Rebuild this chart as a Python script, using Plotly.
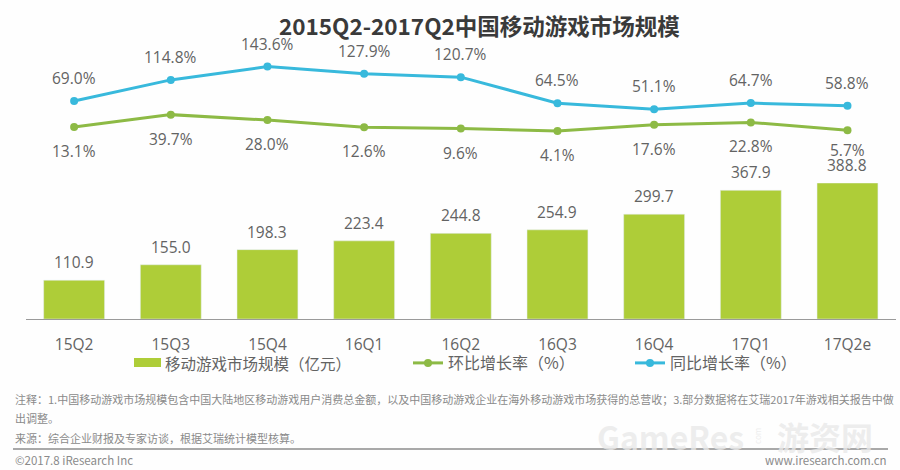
import plotly.graph_objects as go

quarters = ["15Q2", "15Q3", "15Q4", "16Q1", "16Q2", "16Q3", "16Q4", "17Q1", "17Q2e"]
market_size = [110.9, 155.0, 198.3, 223.4, 244.8, 254.9, 299.7, 367.9, 388.8]
qoq_growth = [13.1, 39.7, 28.0, 12.6, 9.6, 4.1, 17.6, 22.8, 5.7]
yoy_growth = [69.0, 114.8, 143.6, 127.9, 120.7, 64.5, 51.1, 64.7, 58.8]

FONT = "'Open Sans', 'Noto Sans CJK SC', sans-serif"
CJK = "'Noto Sans CJK SC', sans-serif"
TEXT = "#636363"
BAR = "#aecd38"
GREEN = "#8dba45"
BLUE = "#38b9dc"
MARK = "rgba(233,233,233,0.8)"
W, H = 900, 470


def px_y(y):
    # pixel row from the top -> paper coordinate
    return 1 - y / H


def note(x, y, text, size=11, color="#8a8a8a", anchor="left", **kwargs):
    return dict(
        xref="paper", yref="paper", x=x / W, y=px_y(y), text=text, showarrow=False,
        xanchor=anchor, yanchor="middle", font=dict(size=size, color=color, family=CJK),
        **kwargs,
    )


def legend_at(x):
    return dict(
        x=x / W, y=px_y(363), xanchor="left", yanchor="middle", bgcolor="rgba(0,0,0,0)",
        font=dict(size=16, color=TEXT, family=CJK),
    )


fig = go.Figure()
fig.add_bar(
    x=quarters, y=market_size, marker_color=BAR, yaxis="y", cliponaxis=False, showlegend=False,
)
fig.add_scatter(
    x=quarters, y=qoq_growth, name="环比增长率（%）", mode="lines+markers", yaxis="y2",
    line=dict(color=GREEN, width=3), marker=dict(color=GREEN, size=8), legend="legend",
    cliponaxis=False, showlegend=True,
)
fig.add_scatter(
    x=quarters, y=yoy_growth, name="同比增长率（%）", mode="lines+markers", yaxis="y2",
    line=dict(color=BLUE, width=3), marker=dict(color=BLUE, size=8), legend="legend2",
    cliponaxis=False, showlegend=True,
)

annotations = []
for q, v in zip(quarters, market_size):
    annotations.append(dict(
        x=q, y=v, yref="y", text=f"{v:.1f}", showarrow=False, yshift=18, yanchor="middle",
        font=dict(size=15.5, color=TEXT, family=FONT),
    ))
for q, v in zip(quarters, qoq_growth):
    # the last label sits closer to its point, above the 388.8 bar label
    shift = -20 if q == "17Q2e" else -24
    annotations.append(dict(
        x=q, y=v, yref="y2", text=f"{v:.1f}%", showarrow=False, yshift=shift, yanchor="middle",
        font=dict(size=15.5, color=TEXT, family=FONT),
    ))
for q, v in zip(quarters, yoy_growth):
    annotations.append(dict(
        x=q, y=v, yref="y2", text=f"{v:.1f}%", showarrow=False, yshift=23, yanchor="middle",
        font=dict(size=15.5, color=TEXT, family=FONT),
    ))

annotations += [
    note(479, 25, "<b>2015Q2-2017Q2中国移动游戏市场规模</b>", size=22.5, color="#3a3a3a", anchor="center"),
    note(163, 363, "移动游戏市场规模（亿元）", size=15.5, color=TEXT),
    note(13, 399, "注释：1.中国移动游戏市场规模包含中国大陆地区移动游戏用户消费总金额，以及中国移动游戏企业在海外移动游戏市场获得的总营收；3.部分数据将在艾瑞2017年游戏相关报告中做"),
    note(13, 418, "出调整。"),
    note(13, 438, "来源：综合企业财报及专家访谈，根据艾瑞统计模型核算。"),
    note(13, 460, "©2017.8 iResearch Inc", size=11.5),
    note(889, 460, "www.iresearch.com.cn", size=11.5, anchor="right"),
    note(595, 436, "<b>GameRes</b>", size=32, color=MARK),
    note(757, 436, "com", size=8, color=MARK, anchor="center", textangle=-90),
    note(875, 436, "<b>游资网</b>", size=32, color=MARK, anchor="right"),
]

fig.update_layout(
    width=W, height=H, margin=dict(l=0, r=0, t=0, b=0), showlegend=True,
    paper_bgcolor="#fefefe", plot_bgcolor="rgba(0,0,0,0)",
    bargap=0.37, annotations=annotations, font=dict(family=FONT, color=TEXT),
    xaxis=dict(
        domain=[25.6 / W, 896 / W], anchor="y", showgrid=False, ticks="",
        showline=True, linecolor="#9a9a9a", linewidth=1,
        tickfont=dict(size=15.5, color=TEXT), ticklabelstandoff=11,
    ),
    yaxis=dict(domain=[px_y(319), px_y(183)], range=[0, 388.8], visible=False),
    yaxis2=dict(domain=[px_y(133), px_y(63.6)], range=[0, 150], visible=False, anchor="x"),
    legend=legend_at(408),
    legend2=legend_at(630),
    shapes=[
        dict(type="line", xref="paper", yref="paper", x0=13 / W, x1=888 / W,
             y0=px_y(449), y1=px_y(449), line=dict(color="#8c8c8c", width=1.5)),
        # key for the bars, wider than the square a plotly legend would draw
        dict(type="rect", xref="paper", yref="paper", x0=134 / W, x1=161 / W,
             y0=px_y(367), y1=px_y(358), fillcolor=BAR, line_width=0),
    ],
)

# the page's default body margin would push the figure 8px off the window
fig.write_html(
    "out.html",
    config={"displayModeBar": False},
    post_script="document.body.style.margin = '0';",
)
